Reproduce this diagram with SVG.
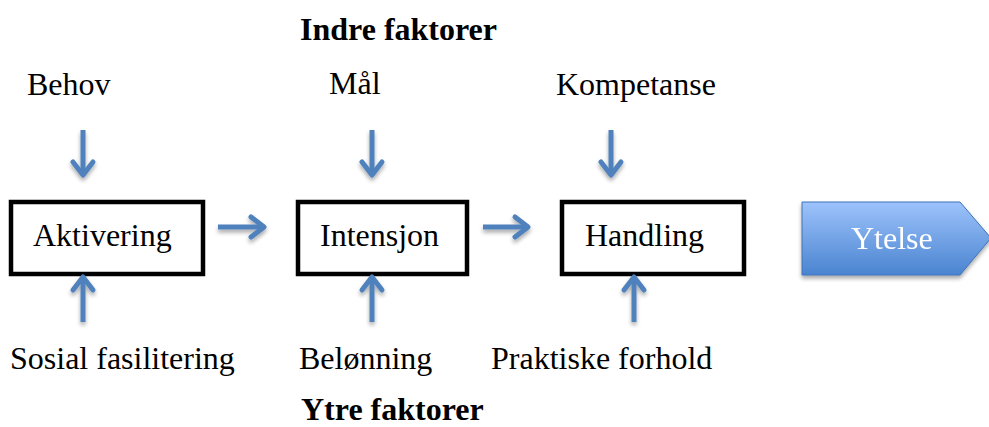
<svg xmlns="http://www.w3.org/2000/svg" width="989" height="427" viewBox="0 0 989 427">
<style>
text{font-family:"Liberation Serif","Times New Roman",serif;font-size:32px;fill:#000}
.b{font-weight:bold}
.box{fill:#fff;stroke:#000;stroke-width:4.5}
.arr{stroke:#4f81bd;stroke-width:5;fill:none;stroke-linecap:butt}
.head{stroke:#4f81bd;stroke-width:5;fill:none;stroke-linecap:round;stroke-linejoin:round}
</style>
<defs>
<linearGradient id="g" x1="0" y1="0" x2="0" y2="1">
<stop offset="0" stop-color="#9dc3fb"/>
<stop offset="1" stop-color="#4a84d0"/>
</linearGradient>
<filter id="sh" x="-10%" y="-10%" width="130%" height="140%">
<feGaussianBlur in="SourceAlpha" stdDeviation="2"/>
<feOffset dx="0" dy="3"/>
<feComponentTransfer><feFuncA type="linear" slope="0.35"/></feComponentTransfer>
<feMerge><feMergeNode/><feMergeNode in="SourceGraphic"/></feMerge>
</filter>
</defs>
<text class="b" x="300" y="40">Indre faktorer</text>
<text class="b" x="301" y="420">Ytre faktorer</text>
<g id="behov"><text x="27" y="95">Behov</text></g>
<g id="maal"><text x="329" y="94">Mål</text></g>
<g id="kompetanse"><text x="556" y="95">Kompetanse</text></g>
<g id="sosial"><text x="10" y="369">Sosial fasilitering</text></g>
<g id="belonning"><text x="299" y="369">Belønning</text></g>
<g id="praktiske"><text x="491" y="369">Praktiske forhold</text></g>
<g id="aktivering"><rect class="box" x="11" y="202" width="192" height="72"/><text x="33" y="246">Aktivering</text></g>
<g id="intensjon"><rect class="box" x="298" y="202" width="169" height="72"/><text x="320" y="246">Intensjon</text></g>
<g id="handling"><rect class="box" x="562" y="202" width="182" height="72"/><text x="585" y="246">Handling</text></g>
<g id="ytelse" filter="url(#sh)"><path d="M802,202 H960 L991,238 L960,275 H802 Z" fill="url(#g)" stroke="#3f73b8" stroke-width="1"/><text x="851" y="249" style="fill:#fff">Ytelse</text></g>
<g id="connectors" filter="url(#sh)">
<path class="arr" d="M83,130 V174"/><path class="head" d="M73,162 L83,175 L93,162"/>
<path class="arr" d="M372,130 V174"/><path class="head" d="M362,162 L372,175 L382,162"/>
<path class="arr" d="M611,130 V174"/><path class="head" d="M601,162 L611,175 L621,162"/>
<path class="arr" d="M83,322 V278"/><path class="head" d="M73,290 L83,277 L93,290"/>
<path class="arr" d="M372,322 V278"/><path class="head" d="M362,290 L372,277 L382,290"/>
<path class="arr" d="M634,322 V278"/><path class="head" d="M624,290 L634,277 L644,290"/>
<path class="arr" d="M218,227 H263"/><path class="head" d="M251,217 L264,227 L251,237"/>
<path class="arr" d="M483,227 H527"/><path class="head" d="M515,217 L528,227 L515,237"/>
</g>
</svg>
